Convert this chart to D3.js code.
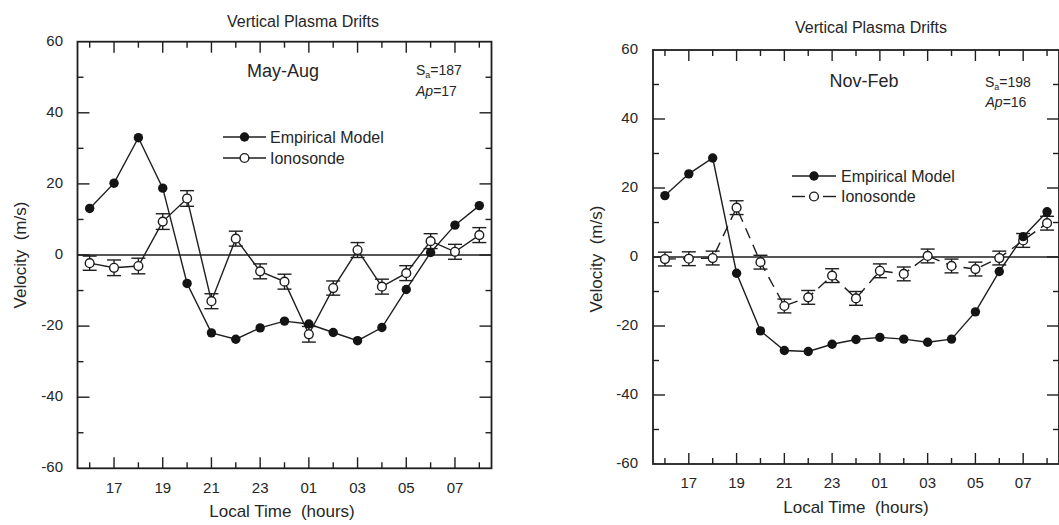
<!DOCTYPE html>
<html>
<head>
<meta charset="utf-8">
<script src="https://cdn.jsdelivr.net/npm/d3@7"></script>
<style>
  html, body { margin: 0; padding: 0; background: #fff; }
  svg { display: block; }
  text { font-family: "Liberation Sans", Arial, Helvetica, sans-serif; fill: #262626; }
</style>
</head>
<body>
<svg id="chart" width="1059" height="525"></svg>
<script>
// Local time in continuous hours (16 ... 32 means 16:00 through 08:00 next day)
const hours = [16, 17, 18, 19, 20, 21, 22, 23, 24, 25, 26, 27, 28, 29, 30, 31, 32];
const hourTickValues = [17, 19, 21, 23, 25, 27, 29, 31];
const hourTickLabels = ["17", "19", "21", "23", "01", "03", "05", "07"];
const velocityTicks = [-60, -40, -20, 0, 20, 40, 60];

// May-Aug season (m/s)
const mayAugModel = [13.1, 20.2, 33.0, 18.8, -8.0, -21.9, -23.7, -20.5, -18.6, -19.4, -21.8, -24.1, -20.4, -9.7, 0.7, 8.4, 13.9];
const mayAugIono  = [-2.3, -3.6, -3.1, 9.4, 15.9, -13.0, 4.6, -4.6, -7.5, -22.3, -9.3, 1.4, -8.9, -5.1, 3.9, 0.9, 5.6];
const mayAugErr   = [2.0, 2.2, 2.2, 2.2, 2.2, 2.1, 2.1, 2.1, 2.1, 2.2, 2.0, 2.1, 2.1, 2.1, 2.1, 2.1, 2.1];

// Nov-Feb season (m/s)
const novFebModel = [17.8, 24.1, 28.7, -4.7, -21.4, -27.1, -27.4, -25.3, -23.9, -23.3, -23.8, -24.7, -23.8, -15.9, -4.2, 5.9, 13.1];
const novFebIono  = [-0.6, -0.5, -0.3, 14.3, -1.5, -14.2, -11.7, -5.4, -12.0, -4.0, -4.9, 0.3, -2.6, -3.5, -0.3, 4.8, 9.8];
const novFebErr   = [2.0, 2.0, 2.0, 2.0, 2.0, 2.0, 2.0, 2.0, 2.0, 2.0, 2.0, 2.0, 2.0, 2.0, 2.0, 2.0, 2.0];

const panels = [
  {
    season: "May-Aug", sa: "187", ap: "17",
    model: mayAugModel, iono: mayAugIono, err: mayAugErr, ionoDash: null,
    x0: 77.5, x1: 491.5, yTop: 41.7, yBottom: 468.3,
    title: [303, 21], seasonPos: [283, 71], saPos: [416, 70], apPos: [416, 91],
    legend: { lx0: 223, lx1: 266, mx: 244.5, tx: 270, y0: 137, y1: 158 },
    yLabelRight: 63, xLabelY: 487, xTitle: [282, 511], yTitle: [20, 255]
  },
  {
    season: "Nov-Feb", sa: "198", ap: "16",
    model: novFebModel, iono: novFebIono, err: novFebErr, ionoDash: "11,7",
    x0: 653, x1: 1059, yTop: 50, yBottom: 464,
    title: [871, 27], seasonPos: [864, 81], saPos: [985, 81.5], apPos: [985.5, 101.5],
    legend: { lx0: 792, lx1: 836, mx: 814, tx: 841, y0: 176, y1: 196.5 },
    yLabelRight: 638, xLabelY: 482, xTitle: [856, 507], yTitle: [596, 259]
  }
];

const svg = d3.select("#chart");
const ink = "#1e1e1e";

panels.forEach(p => {
  const g = svg.append("g");
  const x = d3.scaleLinear().domain([15.5, 32.5]).range([p.x0, p.x1]);
  const y = d3.scaleLinear().domain([-60, 60]).range([p.yBottom, p.yTop]);

  // Inward ticks on all four sides: majors labelled, minors between
  const majorX = hourTickValues;
  const minorX = hours.filter(h => !majorX.includes(h));
  const majorY = [-40, -20, 0, 20, 40];
  const minorY = [-50, -30, -10, 10, 30, 50];
  const majorLen = 11, minorLen = 6;

  const ticks = g.append("g").attr("stroke", ink).attr("stroke-width", 1.4);
  [[majorX, majorLen], [minorX, minorLen]].forEach(([vals, len]) => {
    vals.forEach(v => {
      ticks.append("line").attr("x1", x(v)).attr("x2", x(v)).attr("y1", y(-60)).attr("y2", y(-60) - len);
      ticks.append("line").attr("x1", x(v)).attr("x2", x(v)).attr("y1", y(60)).attr("y2", y(60) + len);
    });
  });
  [[majorY, majorLen + 1], [minorY, minorLen]].forEach(([vals, len]) => {
    vals.forEach(v => {
      ticks.append("line").attr("y1", y(v)).attr("y2", y(v)).attr("x1", x(15.5)).attr("x2", x(15.5) + len);
      ticks.append("line").attr("y1", y(v)).attr("y2", y(v)).attr("x1", x(32.5)).attr("x2", x(32.5) - len);
    });
  });

  // Zero reference line
  g.append("line")
    .attr("x1", x(15.5)).attr("x2", x(32.5))
    .attr("y1", y(0)).attr("y2", y(0))
    .attr("stroke", ink).attr("stroke-width", 1.3);

  // Frame
  g.append("rect")
    .attr("x", x(15.5)).attr("y", y(60))
    .attr("width", x(32.5) - x(15.5)).attr("height", y(-60) - y(60))
    .attr("fill", "none").attr("stroke", ink).attr("stroke-width", 1.8);

  // Tick labels
  g.append("g").selectAll("text").data(velocityTicks).join("text")
    .attr("x", p.yLabelRight).attr("y", d => y(d) - 1.5)
    .attr("text-anchor", "end").attr("dominant-baseline", "central")
    .attr("font-size", 15).text(d => d);
  g.append("g").selectAll("text").data(hourTickValues).join("text")
    .attr("x", d => x(d)).attr("y", p.xLabelY)
    .attr("text-anchor", "middle").attr("dominant-baseline", "central")
    .attr("font-size", 15).text((d, i) => hourTickLabels[i]);

  // Axis titles
  g.append("text")
    .attr("x", p.xTitle[0]).attr("y", p.xTitle[1])
    .attr("text-anchor", "middle").attr("dominant-baseline", "central")
    .attr("font-size", 17).attr("xml:space", "preserve")
    .text("Local Time  (hours)");
  g.append("text")
    .attr("transform", `translate(${p.yTitle[0]},${p.yTitle[1]}) rotate(-90)`)
    .attr("text-anchor", "middle").attr("dominant-baseline", "central")
    .attr("font-size", 17).attr("xml:space", "preserve")
    .text("Velocity  (m/s)");

  // Title and annotations
  g.append("text")
    .attr("x", p.title[0]).attr("y", p.title[1])
    .attr("text-anchor", "middle").attr("dominant-baseline", "central")
    .attr("font-size", 16).text("Vertical Plasma Drifts");
  g.append("text")
    .attr("x", p.seasonPos[0]).attr("y", p.seasonPos[1])
    .attr("text-anchor", "middle").attr("dominant-baseline", "central")
    .attr("font-size", 18).text(p.season);

  const sa = g.append("text")
    .attr("x", p.saPos[0]).attr("y", p.saPos[1])
    .attr("dominant-baseline", "central").attr("font-size", 14);
  sa.append("tspan").text("S");
  sa.append("tspan").attr("font-size", 9).attr("dy", 5).text("a");
  sa.append("tspan").attr("dy", -5).text("=" + p.sa);

  const ap = g.append("text")
    .attr("x", p.apPos[0]).attr("y", p.apPos[1])
    .attr("dominant-baseline", "central").attr("font-size", 14);
  ap.append("tspan").attr("font-style", "italic").text("Ap");
  ap.append("tspan").text("=" + p.ap);

  const pts = hours.map((h, i) => ({ h, m: p.model[i], v: p.iono[i], e: p.err[i] }));
  const line = d3.line().x(d => x(d[0])).y(d => y(d[1]));

  // Ionosonde observations with error bars
  g.append("path")
    .attr("d", line(pts.map(d => [d.h, d.v])))
    .attr("fill", "none").attr("stroke", ink).attr("stroke-width", 1.4)
    .attr("stroke-dasharray", p.ionoDash);

  // Empirical model curve
  g.append("path")
    .attr("d", line(pts.map(d => [d.h, d.m])))
    .attr("fill", "none").attr("stroke", ink).attr("stroke-width", 1.4);

  const bars = g.append("g").attr("stroke", ink).attr("stroke-width", 1.4);
  const capW = 7;
  pts.forEach(d => {
    bars.append("line").attr("x1", x(d.h)).attr("x2", x(d.h)).attr("y1", y(d.v - d.e)).attr("y2", y(d.v + d.e));
    bars.append("line").attr("x1", x(d.h) - capW).attr("x2", x(d.h) + capW).attr("y1", y(d.v + d.e)).attr("y2", y(d.v + d.e));
    bars.append("line").attr("x1", x(d.h) - capW).attr("x2", x(d.h) + capW).attr("y1", y(d.v - d.e)).attr("y2", y(d.v - d.e));
  });

  g.append("g").selectAll("circle").data(pts).join("circle")
    .attr("cx", d => x(d.h)).attr("cy", d => y(d.v)).attr("r", 4.4)
    .attr("fill", "#fff").attr("stroke", ink).attr("stroke-width", 1.4);

  g.append("g").selectAll("circle").data(pts).join("circle")
    .attr("cx", d => x(d.h)).attr("cy", d => y(d.m)).attr("r", 4.7)
    .attr("fill", "#141414");

  // Legend
  const L = p.legend;
  g.append("line").attr("x1", L.lx0).attr("x2", L.lx1).attr("y1", L.y0).attr("y2", L.y0)
    .attr("stroke", ink).attr("stroke-width", 1.4);
  g.append("circle").attr("cx", L.mx).attr("cy", L.y0).attr("r", 4.7).attr("fill", "#141414");
  g.append("text").attr("x", L.tx).attr("y", L.y0).attr("dominant-baseline", "central")
    .attr("font-size", 16).text("Empirical Model");

  if (p.ionoDash) {
    g.append("line").attr("x1", L.lx0).attr("x2", L.mx - 9).attr("y1", L.y1).attr("y2", L.y1)
      .attr("stroke", ink).attr("stroke-width", 1.4);
    g.append("line").attr("x1", L.mx + 9).attr("x2", L.lx1).attr("y1", L.y1).attr("y2", L.y1)
      .attr("stroke", ink).attr("stroke-width", 1.4);
  } else {
    g.append("line").attr("x1", L.lx0).attr("x2", L.lx1).attr("y1", L.y1).attr("y2", L.y1)
      .attr("stroke", ink).attr("stroke-width", 1.4);
  }
  g.append("circle").attr("cx", L.mx).attr("cy", L.y1).attr("r", 4.4)
    .attr("fill", "#fff").attr("stroke", ink).attr("stroke-width", 1.4);
  g.append("text").attr("x", L.tx).attr("y", L.y1).attr("dominant-baseline", "central")
    .attr("font-size", 16).text("Ionosonde");
});
</script>
</body>
</html>
